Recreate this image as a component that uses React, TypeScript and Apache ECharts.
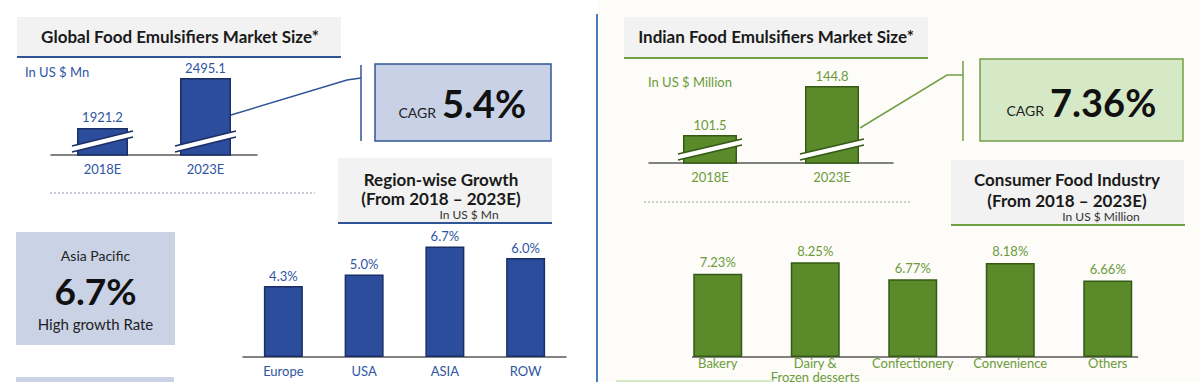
import React, { useEffect, useRef } from 'react';
import * as echarts from 'echarts';

const globalYears = ['2018E', '2023E'];
const globalSize = [1921.2, 2495.1];
const indiaYears = ['2018E', '2023E'];
const indiaSize = [101.5, 144.8];
const regions = ['Europe', 'USA', 'ASIA', 'ROW'];
const regionGrowth = [4.3, 5.0, 6.7, 6.0];
const segments = ['Bakery', 'Dairy &\nFrozen desserts', 'Confectionery', 'Convenience', 'Others'];
const segmentGrowth = [7.23, 8.25, 6.77, 8.18, 6.66];
const globalCagr = '5.4%';
const indiaCagr = '7.36%';
const apacGrowth = '6.7%';

const FONT = 'Lato';
const BLUE_BAR = '#2c4d9c';
const BLUE_EDGE = '#1b2f66';
const BLUE_TEXT = '#2f55a3';
const BLUE_LINE = '#2f5597';
const GREEN_BAR = '#5a8a2a';
const GREEN_EDGE = '#355a16';
const GREEN_TEXT = '#6b9b3b';
const GREEN_LINE = '#70a044';
const AXIS = '#595959';

const Y0_MIN = 1610;
const Y1_MIN = 76.8;

function breakSeries(idx: number, data: number[], yMin: number, barW: number, edge: string) {
  return {
    type: 'custom',
    xAxisIndex: idx,
    yAxisIndex: idx,
    z: 5,
    silent: true,
    data: data.map((v, i) => [i, v]),
    renderItem: (params: any, api: any) => {
      const p = api.coord([api.value(0), yMin]);
      const cx = p[0];
      const by = p[1];
      const hw = barW / 2 + 5;
      const pts = [
        [cx - hw, by - 3],
        [cx + hw, by - 18],
        [cx + hw, by - 24],
        [cx - hw, by - 9],
      ];
      return {
        type: 'group',
        children: [
          { type: 'polygon', shape: { points: pts }, style: { fill: '#ffffff', stroke: null } },
          { type: 'line', shape: { x1: pts[0][0], y1: pts[0][1], x2: pts[1][0], y2: pts[1][1] }, style: { stroke: edge, lineWidth: 1.5 } },
          { type: 'line', shape: { x1: pts[3][0], y1: pts[3][1], x2: pts[2][0], y2: pts[2][1] }, style: { stroke: edge, lineWidth: 1.5 } },
        ],
      };
    },
  };
}

function txt(x: number, y: number, text: string, o: any = {}) {
  return {
    type: 'text',
    x,
    y,
    z: 10,
    style: {
      text,
      fontFamily: FONT,
      fontSize: o.size || 13,
      fontWeight: o.bold ? 'bold' : 'normal',
      fill: o.color || '#1a1a1a',
      align: o.align || 'center',
      verticalAlign: 'middle',
    },
  };
}

function rect(x: number, y: number, w: number, h: number, fill: string, stroke?: string, lw = 1.5) {
  return {
    type: 'rect',
    shape: { x, y, width: w, height: h },
    z: 1,
    style: { fill, stroke: stroke || null, lineWidth: lw },
  };
}

function line(x1: number, y1: number, x2: number, y2: number, stroke: string, lw = 2, dash?: number[]) {
  return {
    type: 'line',
    z: 2,
    shape: { x1, y1, x2, y2 },
    style: { stroke, lineWidth: lw, lineDash: dash || null },
  };
}

export default function App() {
  const ref = useRef<HTMLDivElement>(null);
  useEffect(() => {
    if (!ref.current) return;
    const chart = echarts.init(ref.current, undefined, { renderer: 'svg' });
    const catAxis = (gi: number, data: string[], color: string, showLine = true, margin = 6, lh = 15) => ({
      type: 'category',
      gridIndex: gi,
      data,
      axisTick: { show: false },
      axisLine: { show: showLine, lineStyle: { color: AXIS, width: 1.5 } },
      axisLabel: { color, fontFamily: FONT, fontSize: 13, margin, lineHeight: lh, interval: 0 },
    });
    const valAxis = (gi: number, min: number, max: number) => ({
      type: 'value',
      gridIndex: gi,
      min,
      max,
      show: false,
      splitLine: { show: false },
    });
    const barSeries = (gi: number, data: number[], w: number, fill: string, edge: string, color: string, digits: number, suffix: string, size: number, dist: number) => ({
      type: 'bar',
      xAxisIndex: gi,
      yAxisIndex: gi,
      data,
      barWidth: w,
      z: 3,
      itemStyle: { color: fill, borderColor: edge, borderWidth: 1.5 },
      label: {
        show: true,
        position: 'top',
        distance: dist,
        color,
        fontFamily: FONT,
        fontSize: size,
        formatter: (p: any) => Number(p.value).toFixed(digits) + suffix,
      },
    });

    chart.setOption({
      animation: false,
      textStyle: { fontFamily: FONT },
      grid: [
        { left: 51, width: 206, top: 55, height: 100, outerBoundsMode: 'none' },
        { left: 649, width: 244, top: 63, height: 100, outerBoundsMode: 'none' },
        { left: 243, width: 323, top: 225, height: 132, outerBoundsMode: 'none' },
        { left: 669, width: 487.5, top: 242, height: 115, outerBoundsMode: 'none' },
      ],
      xAxis: [
        catAxis(0, globalYears, BLUE_TEXT),
        catAxis(1, indiaYears, GREEN_TEXT),
        catAxis(2, regions, BLUE_TEXT),
        catAxis(3, segments, GREEN_TEXT, false, -1, 14),
      ],
      yAxis: [
        valAxis(0, Y0_MIN, 2760),
        valAxis(1, Y1_MIN, 165.2),
        valAxis(2, 0, 8),
        valAxis(3, 0, 10),
      ],
      series: [
        barSeries(0, globalSize, 51, BLUE_BAR, BLUE_EDGE, BLUE_TEXT, 1, '', 13, 4),
        barSeries(1, indiaSize, 54, GREEN_BAR, GREEN_EDGE, GREEN_TEXT, 1, '', 13, 4),
        barSeries(2, regionGrowth, 39, BLUE_BAR, BLUE_EDGE, BLUE_TEXT, 1, '%', 13, 4),
        barSeries(3, segmentGrowth, 49, GREEN_BAR, GREEN_EDGE, GREEN_TEXT, 2, '%', 13, 5),
        breakSeries(0, globalSize, Y0_MIN, 51, BLUE_EDGE),
        breakSeries(1, indiaSize, Y1_MIN, 54, GREEN_EDGE),
      ],
      graphic: [
        line(597, 14, 597, 382, '#4a7ebb', 2),
        // left title
        rect(17, 17, 324, 40, '#f2f2f2'),
        line(17, 57, 341, 57, BLUE_LINE, 2),
        txt(180, 36, 'Global Food Emulsifiers Market Size*', { size: 17, bold: true }),
        txt(25, 72, 'In US $ Mn', { align: 'left', color: BLUE_TEXT, size: 13 }),
        { type: 'polyline', z: 2, shape: { points: [[231, 115], [347, 80], [361, 78]] }, style: { stroke: BLUE_LINE, lineWidth: 1.5, fill: null } },
        line(361, 65, 361, 141, BLUE_LINE, 1.5),
        rect(375, 64, 176, 77, '#c8d1e6', BLUE_LINE, 1.5),
        txt(436, 112, 'CAGR', { align: 'right', size: 14, color: '#222' }),
        txt(442, 103, globalCagr, { align: 'left', size: 38, bold: true, color: '#111' }),
        line(50, 193, 315, 193, '#8d9ab3', 1, [2, 2]),
        // region title
        rect(338, 158, 214, 64, '#f2f2f2'),
        line(338, 223, 552, 223, BLUE_LINE, 2),
        txt(441, 179, 'Region-wise Growth', { size: 17, bold: true }),
        txt(441, 198, '(From 2018 \u2013 2023E)', { size: 17, bold: true }),
        txt(469, 214, 'In US $ Mn', { size: 12, color: '#333' }),
        // asia pacific
        rect(16, 232, 159, 113, '#cad2e6'),
        txt(95.5, 255, 'Asia Pacific', { size: 14, color: '#222' }),
        txt(95.5, 290, apacGrowth, { size: 37, bold: true, color: '#111' }),
        txt(95.5, 324, 'High growth Rate', { size: 15, color: '#222' }),
        rect(16, 377, 158, 10, '#cad2e6'),
        // india title
        rect(624, 17, 304, 41, '#f2f2f2'),
        line(624, 58, 928, 58, GREEN_LINE, 2),
        txt(776, 36, 'Indian Food Emulsifiers Market Size*', { size: 17, bold: true }),
        txt(648, 82, 'In US $ Million', { align: 'left', color: GREEN_TEXT, size: 13 }),
        { type: 'polyline', z: 2, shape: { points: [[860, 128], [947, 75], [963, 75]] }, style: { stroke: GREEN_LINE, lineWidth: 1.5, fill: null } },
        line(963, 61, 963, 141, GREEN_LINE, 1.5),
        rect(980, 59, 203, 82, '#d6e9c6', GREEN_LINE, 1.5),
        txt(1044, 110.5, 'CAGR', { align: 'right', size: 14, color: '#222' }),
        txt(1050, 101.5, indiaCagr, { align: 'left', size: 38, bold: true, color: '#111' }),
        line(644, 202, 910, 202, '#9aa88a', 1, [2, 2]),
        // consumer title
        rect(951, 160, 233, 64, '#f2f2f2'),
        line(951, 225, 1185, 225, GREEN_LINE, 2),
        txt(1067, 179, 'Consumer Food Industry', { size: 17, bold: true }),
        txt(1067, 200, '(From 2018 \u2013 2023E)', { size: 17, bold: true }),
        txt(1101, 216, 'In US $ Million', { size: 12, color: '#333' }),
        line(692, 357, 1138, 357, AXIS, 1.5),
        rect(616, 380, 157, 10, '#d6e9c6'),
      ],
    });
    return () => chart.dispose();
  }, []);
  return (
    <div
      ref={ref}
      style={{
        position: 'fixed',
        left: 0,
        top: 0,
        width: 1200,
        height: 382,
        background: 'linear-gradient(to right, #ffffff 598px, #fdfcf8 598px)',
      }}
    />
  );
}
